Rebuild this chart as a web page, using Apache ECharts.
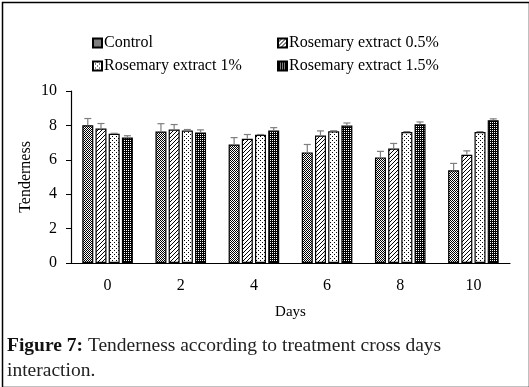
<!DOCTYPE html>
<html>
<head>
<meta charset="utf-8">
<script src="https://cdn.jsdelivr.net/npm/echarts@6/dist/echarts.min.js"></script>
<style>
  html, body { margin: 0; padding: 0; background: #fff; }
  #chart { width: 529px; height: 387px; }
</style>
</head>
<body>
<div id="chart"></div>
<script>
// Data
const days = ['0', '2', '4', '6', '8', '10'];
const seriesNames = ['Control', 'Rosemary extract 0.5%', 'Rosemary extract 1%', 'Rosemary extract 1.5%'];
const control = [8.01, 7.64, 6.89, 6.43, 6.14, 5.39];
const rosemary05 = [7.82, 7.76, 7.22, 7.41, 6.66, 6.29];
const rosemary1 = [7.51, 7.70, 7.45, 7.66, 7.61, 7.61];
const rosemary15 = [7.30, 7.59, 7.70, 7.99, 8.07, 8.30];
const errControl = [0.39, 0.46, 0.40, 0.46, 0.35, 0.40];
const err05 = [0.29, 0.29, 0.25, 0.27, 0.29, 0.23];
const err1 = [0.03, 0.06, 0.02, 0.03, 0.03, 0.03];
const err15 = [0.10, 0.15, 0.17, 0.15, 0.13, 0.08];
const yTicks = [0, 2, 4, 6, 8, 10];

const values = [control, rosemary05, rosemary1, rosemary15];
const errors = [errControl, err05, err1, err15];

// fill patterns (drawn on small canvases)
function makePattern(w, h, draw) {
  const c = document.createElement('canvas');
  c.width = w; c.height = h;
  const ctx = c.getContext('2d');
  ctx.fillStyle = '#fff';
  ctx.fillRect(0, 0, w, h);
  ctx.fillStyle = '#000';
  ctx.strokeStyle = '#000';
  draw(ctx);
  return { image: c, repeat: 'repeat' };
}
const patterns = [
  // fine checker
  makePattern(2, 2, ctx => { ctx.fillRect(0, 0, 1, 1); ctx.fillRect(1, 1, 1, 1); }),
  // diagonal hatch
  makePattern(4, 4, ctx => {
    ctx.lineWidth = 1;
    ctx.beginPath();
    ctx.moveTo(0, 4); ctx.lineTo(4, 0);
    ctx.moveTo(-1, 1); ctx.lineTo(1, -1);
    ctx.moveTo(3, 5); ctx.lineTo(5, 3);
    ctx.stroke();
  }),
  // sparse dots
  makePattern(4, 4, ctx => { ctx.fillRect(0, 0, 1, 1); ctx.fillRect(2, 2, 1, 1); }),
  // dark grid with white pinholes
  makePattern(2, 2, ctx => {
    ctx.fillRect(0, 0, 2, 2);
    ctx.fillStyle = '#fff';
    ctx.fillRect(0, 0, 1, 1);
  })
];

const barWidth = 11;
const gapPx = 2.2;
const serif = '"Liberation Serif", "DejaVu Serif", serif';

const barSeries = seriesNames.map((name, i) => ({
  name: name,
  type: 'bar',
  data: values[i],
  barWidth: barWidth,
  barGap: '20%',
  itemStyle: { color: patterns[i], borderColor: '#000', borderWidth: 1.2 },
  z: 2
}));

const errorSeries = seriesNames.map((name, i) => ({
  type: 'custom',
  name: name + ' err',
  data: values[i].map((v, k) => [k, v, v + errors[i][k]]),
  z: 3,
  silent: true,
  renderItem: (params, api) => {
    const off = (i - 1.5) * (barWidth + gapPx);
    const lo = api.coord([api.value(0), api.value(1)]);
    const hi = api.coord([api.value(0), api.value(2)]);
    const x = lo[0] + off;
    const style = { stroke: '#7f7f7f', lineWidth: 1.2 };
    return {
      type: 'group',
      children: [
        { type: 'line', shape: { x1: x, y1: lo[1], x2: x, y2: hi[1] }, style: style },
        { type: 'line', shape: { x1: x - 3.5, y1: hi[1], x2: x + 3.5, y2: hi[1] }, style: style }
      ]
    };
  }
}));

const legendText = { fontFamily: serif, fontSize: 16, color: '#000', padding: [0, 0, 0, -3] };

const chart = echarts.init(document.getElementById('chart'));
chart.setOption({
  backgroundColor: '#fff',
  animation: false,
  textStyle: { fontFamily: serif },
  grid: { left: 71, right: 19, top: 91, bottom: 124 },
  legend: [
    {
      data: [seriesNames[0], seriesNames[2]],
      orient: 'vertical', left: 87, top: 30, itemGap: 7,
      icon: 'rect', itemWidth: 9, itemHeight: 9,
      textStyle: legendText
    },
    {
      data: [seriesNames[1], seriesNames[3]],
      orient: 'vertical', left: 272, top: 30, itemGap: 7,
      icon: 'rect', itemWidth: 9, itemHeight: 9,
      textStyle: legendText
    }
  ],
  xAxis: {
    type: 'category',
    data: days,
    name: 'Days',
    nameLocation: 'middle',
    nameGap: 42,
    nameTextStyle: { fontFamily: serif, fontSize: 15, color: '#000' },
    axisLine: { lineStyle: { color: '#000', width: 1.2 } },
    axisTick: { alignWithLabel: true, length: 5, lineStyle: { color: '#000' } },
    axisLabel: { fontFamily: serif, fontSize: 16, color: '#000', margin: 15 }
  },
  yAxis: {
    type: 'value',
    min: yTicks[0],
    max: yTicks[yTicks.length - 1],
    interval: 2,
    name: 'Tenderness',
    nameLocation: 'middle',
    nameGap: 37,
    nameMoveOverlap: false,
    nameTextStyle: { fontFamily: serif, fontSize: 16, color: '#000' },
    axisLine: { show: true, lineStyle: { color: '#000', width: 1.2 } },
    axisTick: { show: true, length: 5, lineStyle: { color: '#000' } },
    axisLabel: { fontFamily: serif, fontSize: 16, color: '#000', margin: 14 },
    splitLine: { show: false }
  },
  series: [...barSeries, ...errorSeries],
  graphic: [
    {
      type: 'rect', left: 0, top: 0, z: 100, silent: true,
      shape: { x: 0.5, y: 0.5, width: 527, height: 385 },
      style: { fill: 'none', stroke: '#000', lineWidth: 1.5 }
    },
    {
      type: 'text', left: 7, top: 333,
      style: {
        text: '{b|Figure 7:} Tenderness according to treatment cross days\ninteraction.',
        fontFamily: serif, fontSize: 19.5, lineHeight: 25, fill: '#222',
        rich: { b: { fontFamily: serif, fontSize: 19.5, fontWeight: 'bold', fill: '#111' } }
      }
    }
  ]
});
</script>
</body>
</html>
